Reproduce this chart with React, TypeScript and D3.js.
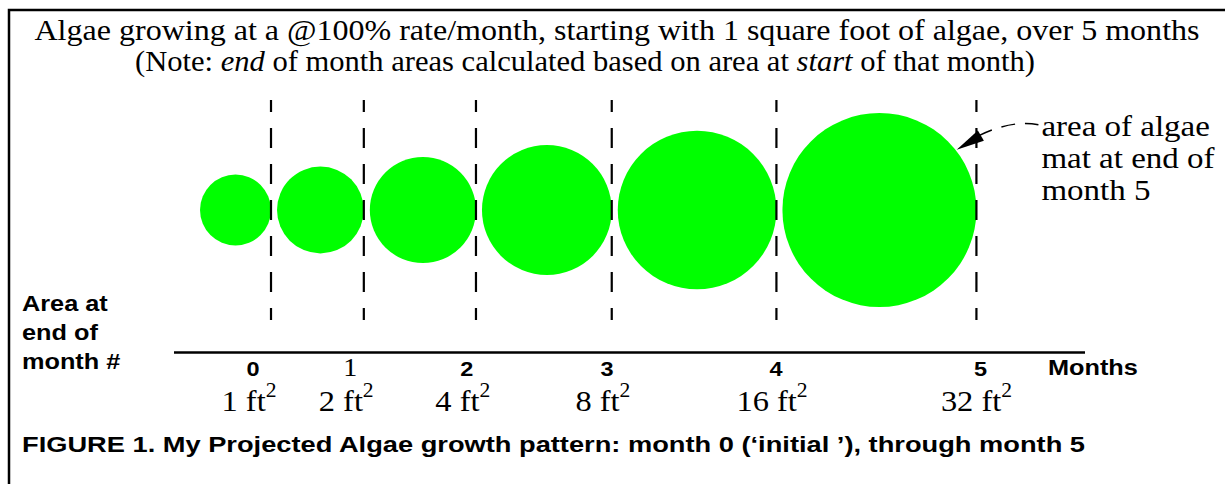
import React, { useEffect, useRef } from 'react';
import * as d3 from 'd3';

// ---- data ----
const months = [0, 1, 2, 3, 4, 5];
const areas = [1, 2, 4, 8, 16, 32]; // ft^2 at end of each month
const areaUnit = 'ft';
const titleLine1 = 'Algae growing at a @100% rate/month, starting with 1 square foot of algae, over 5 months';
const titleLine2: [string, boolean][] = [
  ['(Note: ', false],
  ['end', true],
  [' of month areas calculated based on area at ', false],
  ['start', true],
  [' of that month)', false],
];
const sideLabel = ['Area at', 'end of', 'month #'];
const noteLines = ['area of algae', 'mat at end of', 'month 5'];
const axisTitle = 'Months';
const caption = 'FIGURE 1. My Projected Algae growth pattern: month 0 (\u2018initial \u2019), through month 5';

const W = 1225, H = 484;
const SERIF = '"Liberation Serif", "Times New Roman", serif';
const SANS = '"Liberation Sans", Arial, sans-serif';

const App = () => {
  const svgRef = useRef<SVGSVGElement>(null);

  useEffect(() => {
    const svg = d3.select(svgRef.current);
    svg.selectAll('*').remove();

    svg.append('rect').attr('width', W).attr('height', H).attr('fill', '#fff');

    // frame (top + left edges visible)
    svg.append('path').attr('d', `M9,${H} V10 H${W}`)
      .attr('fill', 'none').attr('stroke', '#000').attr('stroke-width', 2.5);

    // title
    svg.append('text').attr('x', 617).attr('y', 40).attr('text-anchor', 'middle')
      .attr('font-family', SERIF).attr('font-size', 30)
      .attr('textLength', 1165).attr('lengthAdjust', 'spacingAndGlyphs')
      .text(titleLine1);
    const t2 = svg.append('text').attr('x', 585).attr('y', 71).attr('text-anchor', 'middle')
      .attr('font-family', SERIF).attr('font-size', 30)
      .attr('textLength', 900).attr('lengthAdjust', 'spacingAndGlyphs');
    titleLine2.forEach(([s, it]) => t2.append('tspan').attr('font-style', it ? 'italic' : 'normal').text(s));

    // circles: radius grows with area, packed left to right
    const r = d3.scalePow().exponent(0.29).domain([0, 32]).range([0, 97]);
    const cy = 210, gap = 6;
    let left = 200;
    const layout = areas.map(a => {
      const rad = r(a);
      const cx = left + rad;
      left = cx + rad + gap;
      return { cx, rad, edge: cx + rad };
    });

    svg.append('g').selectAll('circle').data(layout).join('circle')
      .attr('cx', d => d.cx).attr('cy', cy).attr('r', d => d.rad).attr('fill', '#00ff00');

    // month-end dashed markers
    svg.append('g').selectAll('line').data(layout).join('line')
      .attr('x1', d => d.edge).attr('x2', d => d.edge).attr('y1', 100).attr('y2', 320)
      .attr('stroke', '#000').attr('stroke-width', 2.2)
      .attr('stroke-dasharray', '20,16').attr('stroke-dashoffset', 8);

    // axis
    svg.append('line').attr('x1', 174).attr('x2', 1085).attr('y1', 352.5).attr('y2', 352.5)
      .attr('stroke', '#000').attr('stroke-width', 2.5);

    const scaled = (x: number, y: number, sx: number) => `translate(${x},${y}) scale(${sx},1)`;

    months.forEach((m, i) => {
      const mx = layout[i].edge - 18 + 4.4 * i;
      const serifDigit = m === 1;
      svg.append('text').attr('transform', scaled(mx, 376, 1.12)).attr('text-anchor', 'middle')
        .attr('font-family', serifDigit ? SERIF : SANS)
        .attr('font-weight', serifDigit ? 'normal' : 'bold')
        .attr('font-size', serifDigit ? 25 : 21)
        .text(String(m));

      const lab = svg.append('text').attr('transform', scaled(mx - 4, 411, 1.08))
        .attr('text-anchor', 'middle').attr('font-family', SERIF).attr('font-size', 30);
      lab.append('tspan').text(`${areas[i]} ${areaUnit}`);
      lab.append('tspan').attr('dy', -14).attr('font-size', 20).text('2');
    });

    svg.append('text').attr('transform', scaled(1048, 375, 1.15))
      .attr('font-family', SANS).attr('font-weight', 'bold').attr('font-size', 22).text(axisTitle);

    sideLabel.forEach((s, i) => {
      svg.append('text').attr('transform', scaled(22, 311 + i * 29, 1.15))
        .attr('font-family', SANS).attr('font-weight', 'bold').attr('font-size', 22).text(s);
    });

    // annotation for the last circle
    const last = layout[layout.length - 1];
    const ang = -38 * Math.PI / 180;
    const tip: [number, number] = [last.cx + (last.rad + 1) * Math.cos(ang), cy + (last.rad + 1) * Math.sin(ang)];
    const dir = -30 * Math.PI / 180;
    const len = 28, half = 6;
    const base: [number, number] = [tip[0] + len * Math.cos(dir), tip[1] + len * Math.sin(dir)];
    const nx = -Math.sin(dir), ny = Math.cos(dir);
    svg.append('path')
      .attr('d', `M${tip[0]},${tip[1]} L${base[0] + nx * half},${base[1] + ny * half} L${base[0] - nx * half},${base[1] - ny * half} Z`)
      .attr('fill', '#000');
    const noteX = last.edge + 65;
    const p = d3.path();
    p.moveTo(base[0] - 2, base[1]);
    p.quadraticCurveTo(noteX - 30, base[1] - 16, noteX - 3, base[1] - 11);
    svg.append('path').attr('d', p.toString()).attr('fill', 'none')
      .attr('stroke', '#000').attr('stroke-width', 1.5).attr('stroke-dasharray', '14,10');

    noteLines.forEach((s, i) => {
      svg.append('text').attr('transform', scaled(noteX, 136 + i * 32, 1.1))
        .attr('font-family', SERIF).attr('font-size', 30).text(s);
    });

    // caption
    svg.append('text').attr('x', 22).attr('y', 452)
      .attr('font-family', SANS).attr('font-weight', 'bold').attr('font-size', 22)
      .attr('textLength', 1063).attr('lengthAdjust', 'spacingAndGlyphs')
      .text(caption);
  }, []);

  return (
    <svg ref={svgRef} width={W} height={H} style={{ position: 'absolute', left: 0, top: 0, display: 'block' }} />
  );
};

export default App;
